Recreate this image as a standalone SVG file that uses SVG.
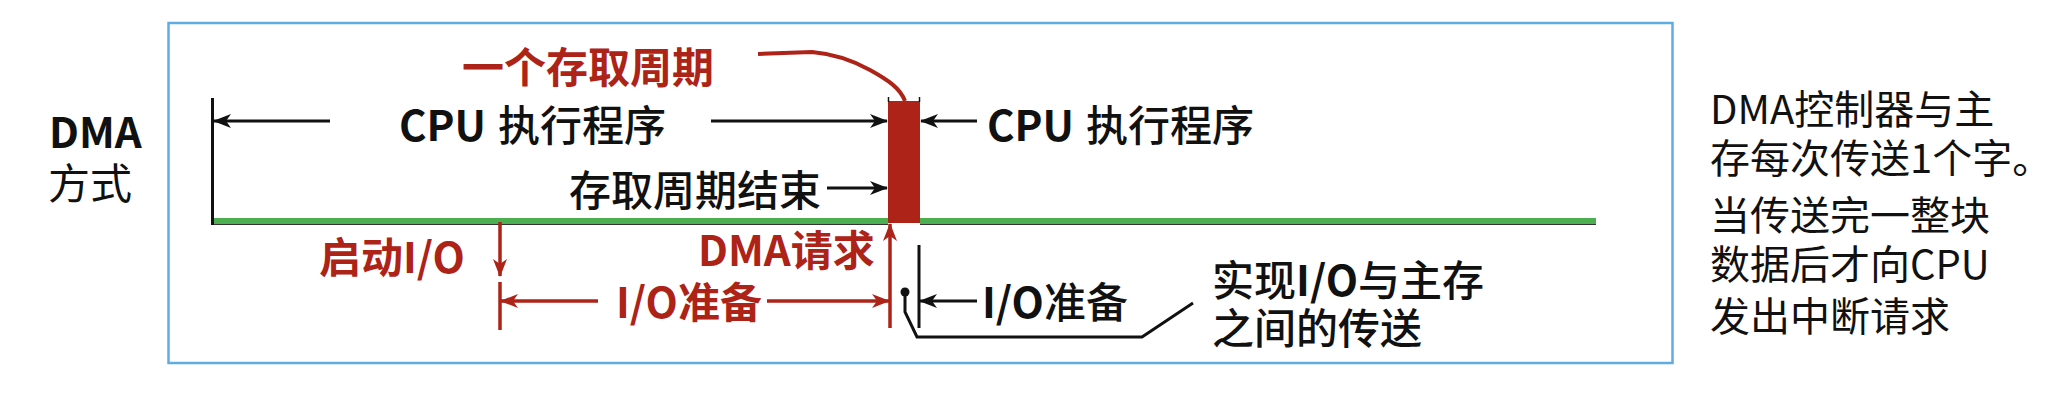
<svg xmlns="http://www.w3.org/2000/svg" width="2072" height="404" viewBox="0 0 2072 404">
<style>
text{font-family:"Noto Sans CJK SC","Liberation Sans",sans-serif;font-size:42px;fill:#111}
.red{fill:#AE2318;font-weight:bold}
.b{font-weight:bold}
.m{font-weight:500}
.side{font-size:40px}
.blk{stroke:#111;stroke-width:3;fill:none}
.rl{stroke:#AE2318;stroke-width:3.5;fill:none}
.green{fill:#4CAF50}
</style>
<defs>
<marker id="ab" markerUnits="userSpaceOnUse" markerWidth="18" markerHeight="16" refX="17" refY="8" orient="auto">
<path d="M0,1 L18,8 L0,15 L5,8 z" fill="#111"/>
</marker>
<marker id="ar" markerUnits="userSpaceOnUse" markerWidth="18" markerHeight="16" refX="17" refY="8" orient="auto">
<path d="M0,1 L18,8 L0,15 L5,8 z" fill="#AE2318"/>
</marker>
</defs>
<rect width="2072" height="404" fill="#fff"/>
<rect id="frame" x="168.5" y="23" width="1504" height="340" fill="none" stroke="#5DADE2" stroke-width="2.5"/>

<g id="label-dma">
<text x="49" y="148" class="b">DMA</text>
<text x="48" y="199">方式</text>
</g>

<g id="timeline">
<rect class="green" x="212" y="218" width="676" height="6"/>
<rect class="green" x="920" y="218" width="676" height="6"/>
<line x1="212" y1="224.5" x2="888" y2="224.5" stroke="#333" stroke-width="1"/>
<line x1="920" y1="224.5" x2="1596" y2="224.5" stroke="#333" stroke-width="1"/>
</g>

<g id="access-cycle">
<rect x="888" y="101" width="32" height="122" fill="#AE2318"/>
<line x1="888.5" y1="97" x2="888.5" y2="102" stroke="#111" stroke-width="1.5"/>
<line x1="919.5" y1="97" x2="919.5" y2="102" stroke="#111" stroke-width="1.5"/>
</g>

<g id="label-cycle">
<text x="462" y="83" class="red">一个存取周期</text>
</g>
<g id="label-cpu1">
<text x="399" y="141"><tspan class="b">CPU</tspan><tspan class="m" dx="12">执行程序</tspan></text>
</g>
<g id="label-cpu2">
<text x="987" y="141"><tspan class="b">CPU</tspan><tspan class="m" dx="12">执行程序</tspan></text>
</g>
<g id="label-end">
<text x="569" y="206" class="m">存取周期结束</text>
</g>
<g id="label-start">
<text x="319" y="273" class="red">启动I/O</text>
</g>
<g id="label-req">
<text x="698" y="266" class="red">DMA请求</text>
</g>
<g id="label-prep1">
<text x="616" y="318" class="red">I/O准备</text>
</g>
<g id="label-prep2">
<text x="982" y="318" class="m"><tspan class="b">I/O</tspan>准备</text>
</g>
<g id="label-transfer">
<text x="1212" y="296" class="m">实现<tspan class="b">I/O</tspan>与主存</text>
<text x="1212" y="344" class="m">之间的传送</text>
</g>
<g id="note">
<text x="1710" y="124" class="side">DMA控制器与主</text>
<text x="1710" y="173" class="side">存每次传送1个字。</text>
<text x="1710" y="230" class="side">当传送完一整块</text>
<text x="1710" y="279" class="side">数据后才向CPU</text>
<text x="1710" y="331" class="side">发出中断请求</text>
</g>

<g id="connectors">
<line class="blk" x1="212.5" y1="98" x2="212.5" y2="225"/>
<line class="blk" x1="330" y1="121" x2="214" y2="121" marker-end="url(#ab)"/>
<line class="blk" x1="711" y1="121" x2="887" y2="121" marker-end="url(#ab)"/>
<line class="blk" x1="977" y1="121" x2="921" y2="121" marker-end="url(#ab)"/>
<line class="blk" x1="827" y1="188" x2="887" y2="188" marker-end="url(#ab)"/>
<path d="M758,54 L812,52 C835,54 852,60 870,70 C888,80 900,88 905,101" stroke="#AE2318" stroke-width="4" fill="none"/>
<line class="rl" x1="500" y1="222" x2="500" y2="276" marker-end="url(#ar)"/>
<line class="rl" x1="500" y1="282" x2="500" y2="330"/>
<line class="rl" x1="598" y1="301" x2="501" y2="301" marker-end="url(#ar)"/>
<line class="rl" x1="767" y1="301" x2="889" y2="301" marker-end="url(#ar)"/>
<line class="rl" x1="890" y1="328" x2="890" y2="224" marker-end="url(#ar)"/>
<line class="blk" x1="919" y1="245" x2="919" y2="328"/>
<line class="blk" x1="977" y1="301" x2="920" y2="301" marker-end="url(#ab)"/>
<circle cx="905" cy="292" r="4.5" fill="#111"/>
<path class="blk" d="M905,292 L905,312 L917,337 L1142,337 L1193,303"/>
</g>
</svg>
